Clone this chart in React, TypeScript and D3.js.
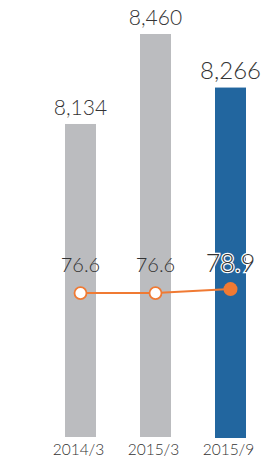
import * as d3 from "d3";

const W = 264;
const H = 468;

const periods = ["2014/3", "2015/3", "2015/9"];
const barValues = [8134, 8460, 8266];
const lineValues = [76.6, 76.6, 78.9];
const barLabels = ["8,134", "8,460", "8,266"];
const lineLabels = ["76.6", "76.6", "78.9"];

const GRAY = "#bbbcbf";
const BLUE = "#22669f";
const ORANGE = "#f07a33";
const TEXT = "#333333";
const FONT = "Lato, 'Open Sans', sans-serif";

export default function App() {
  const x = d3.scaleBand<string>().domain(periods).range([65, 246]).paddingInner(44 / 75).paddingOuter(0);
  const y = d3.scaleLinear().domain([7000, 8460]).range([437, 34]);
  const yLine = d3.scaleLinear().domain([0, 100]).range([426.3, 252.4]);

  const cx = (p: string) => (x(p) ?? 0) + x.bandwidth() / 2;
  const last = periods.length - 1;

  const line = d3
    .line<number>()
    .x((_, i) => cx(periods[i]))
    .y((d) => yLine(d));

  return (
    <svg
      width={W}
      height={H}
      viewBox={`0 0 ${W} ${H}`}
      style={{ position: "fixed", left: 0, top: 0, background: "#fff" }}
    >
      {/* Bars */}
      {periods.map((p, i) => (
        <rect
          key={p}
          x={x(p)}
          y={y(barValues[i])}
          width={x.bandwidth()}
          height={y(7000) - y(barValues[i]) + (i === last ? 1 : 0)}
          fill={i === last ? BLUE : GRAY}
        />
      ))}

      {/* Bar value labels */}
      {periods.map((p, i) => (
        <text
          key={`b${p}`}
          x={cx(p)}
          y={y(barValues[i]) - 9}
          textAnchor="middle"
          fontFamily={FONT}
          fontWeight={300}
          fontSize={i === last ? 24 : 21}
          fill={TEXT}
        >
          {barLabels[i]}
        </text>
      ))}

      {/* Line */}
      <path d={line(lineValues) ?? ""} fill="none" stroke={ORANGE} strokeWidth={2} />
      {periods.map((p, i) => (
        <circle
          key={`c${p}`}
          cx={cx(p)}
          cy={yLine(lineValues[i])}
          r={i === last ? 7 : 6}
          fill={i === last ? ORANGE : "#ffffff"}
          stroke={ORANGE}
          strokeWidth={i === last ? 0 : 1.8}
        />
      ))}

      {/* Line value labels */}
      {periods.map((p, i) => (
        <text
          key={`l${p}`}
          x={cx(p)}
          y={272}
          textAnchor="middle"
          fontFamily={FONT}
          fontWeight={300}
          fontSize={i === last ? 25 : 20}
          fill={TEXT}
          stroke={i === last ? "#ffffff" : "none"}
          strokeWidth={i === last ? 2.5 : 0}
          paintOrder="stroke"
        >
          {lineLabels[i]}
        </text>
      ))}

      {/* Category labels */}
      {periods.map((p) => (
        <text
          key={`x${p}`}
          x={cx(p) - 2}
          y={455}
          textAnchor="middle"
          fontFamily={FONT}
          fontWeight={300}
          fontSize={15.5}
          fill={TEXT}
        >
          {p}
        </text>
      ))}
    </svg>
  );
}
